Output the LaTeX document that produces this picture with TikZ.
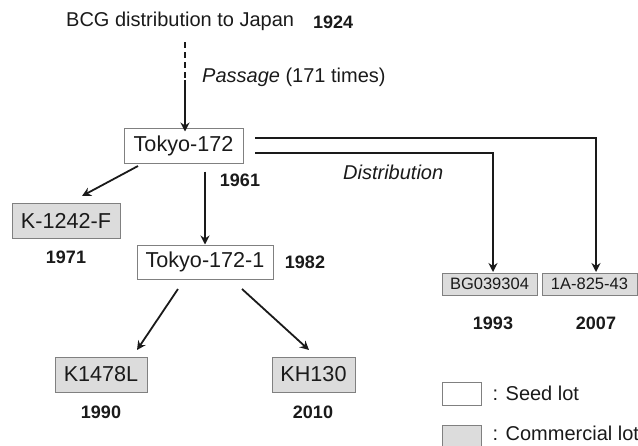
\documentclass[tikz,border=0pt]{standalone}
\usepackage{fontspec}
\setmainfont{Liberation Sans}
\usetikzlibrary{arrows.meta,calc}
\definecolor{boxgray}{HTML}{DCDCDC}
\definecolor{edgegray}{HTML}{808080}
\definecolor{ink}{HTML}{1A1A1A}
\begin{document}
\begin{tikzpicture}[x=1pt,y=-1pt,
  lot/.style={draw=edgegray,line width=1pt,inner sep=0pt,text=ink,
    font=\fontsize{21.6}{24}\selectfont,anchor=center},
  seedlot/.style={lot,fill=white},
  commlot/.style={lot,fill=boxgray},
  smalllot/.style={draw=edgegray,line width=1pt,inner sep=0pt,text=ink,fill=boxgray,
    font=\fontsize{16.5}{18}\selectfont},
  yr/.style={font=\fontsize{18}{20}\selectfont\bfseries,text=ink,inner sep=0pt},
  lbl/.style={font=\fontsize{20}{22}\selectfont,text=ink,inner sep=0pt},
  arr/.style={line width=1.8pt,draw=ink,-{Stealth[length=9pt,width=9pt,inset=3pt]}},
  conn/.style={line width=1.8pt,draw=ink}
]
\useasboundingbox (0,0) rectangle (638,445);

% title
\node[lbl,anchor=west] (title) at (66,21) {BCG distribution to Japan};
\node[yr,anchor=west] (y1924) at (313,22) {1924};
\node[lbl,anchor=west] (passage) at (202,77) {\itshape Passage\upshape{} (171 times)};

% boxes
\node[seedlot,minimum width=119pt,minimum height=35pt] (t172) at (183.5,145.5) {Tokyo-172};
\node[commlot,minimum width=108pt,minimum height=35pt] (k1242) at (66,220.5) {K-1242-F};
\node[seedlot,minimum width=136pt,minimum height=34pt] (t1721) at (205,262) {Tokyo-172-1};
\node[commlot,minimum width=92pt,minimum height=35pt] (k1478) at (101,374.5) {K1478L};
\node[commlot,minimum width=83pt,minimum height=35pt] (kh130) at (313.5,374.5) {KH130};
\node[smalllot,minimum width=95pt,minimum height=22pt] (bg) at (489.5,284) {BG039304};
\node[smalllot,minimum width=95pt,minimum height=22pt] (oneA) at (589.5,284) {1A-825-43};

% years
\node[yr] (y1961) at (240,180) {1961};
\node[yr] (y1971) at (66,257) {1971};
\node[yr] (y1982) at (305,262) {1982};
\node[yr] (y1990) at (101,412) {1990};
\node[yr] (y2010) at (313,412) {2010};
\node[yr] (y1993) at (493,323) {1993};
\node[yr] (y2007) at (596,323) {2007};

\node[lbl,anchor=west] (distr) at (343,172) {\itshape Distribution};

% legend
\node[seedlot,minimum width=39pt,minimum height=23pt] (legseed) at (461.5,393.5) {};
\node[lbl,anchor=west] (legseedt) at (492.5,393) {: Seed lot};
\node[commlot,minimum width=39pt,minimum height=23pt] (legcomm) at (461.5,437) {};
\node[lbl,anchor=west] (legcommt) at (492.5,433) {: Commercial lot};

% connectors
\coordinate (dtop) at (185,42);
\coordinate (dmid) at (185,80);
\draw[conn,dash pattern=on 6pt off 4pt] (dtop) -- (dmid);
\draw[arr] (dmid) -- ([yshift=-4pt]t172.north -| dmid);

\coordinate (a1s) at (138,166);
\coordinate (a1e) at (82,196);
\draw[arr] (a1s) -- (a1e);

\draw[arr,shorten <=8pt] (t172.south -| t1721.north) -- (t1721.north);

\coordinate (b1s) at (178,289);
\coordinate (b1e) at (137,350);
\coordinate (b2s) at (242,289);
\coordinate (b2e) at (309,350);
\draw[arr] (b1s) -- (b1e);
\draw[arr] (b2s) -- (b2e);

\coordinate (d1) at (255,138);
\coordinate (d2) at (255,153);
\coordinate (e1) at (596,272);
\coordinate (e2) at (493,272);
\draw[arr] (d1) -| (e1);
\draw[arr] (d2) -| (e2);
\end{tikzpicture}
\end{document}
